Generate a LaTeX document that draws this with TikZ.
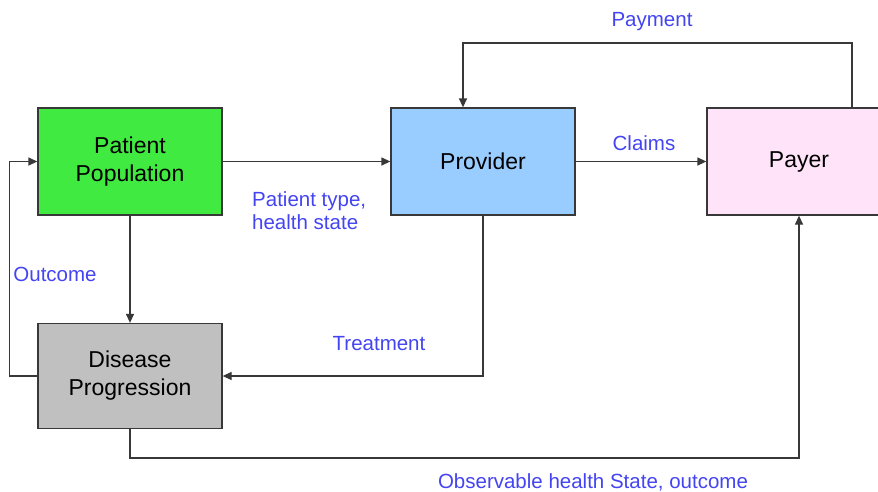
\documentclass[tikz,border=0pt]{standalone}
\usepackage{fontspec}
\setmainfont{Liberation Sans}
\usepackage{tikz}
\usepackage{xcolor}
\usetikzlibrary{arrows.meta, positioning, calc}

\definecolor{popgreen}{HTML}{40EA40}
\definecolor{provblue}{HTML}{99CCFF}
\definecolor{payerpink}{HTML}{FFE3F8}
\definecolor{diseasegray}{HTML}{C0C0C0}
\definecolor{flowtext}{HTML}{4444F2}
\definecolor{flowline}{HTML}{383838}

\tikzset{
  block/.style={draw=flowline, line width=1.3pt, minimum width=184pt, minimum height=107pt,
                align=center, font=\fontsize{23}{28}\selectfont, inner sep=0pt},
  flow/.style={draw=flowline, line width=1.3pt, -{Triangle[length=9pt,width=8pt]}},
  tag/.style={text=flowtext, font=\fontsize{20.5}{23}\selectfont, inner sep=0pt}
}

\begin{document}
\begin{tikzpicture}[x=1pt, y=-1pt]
\useasboundingbox (0,0) rectangle (878,491);

% Boxes
\node[block, fill=popgreen] (pat) at (130,161.5) {Patient\\Population};
\node[block, fill=provblue] (prov) at (483,161.5) {Provider};
\node[block, fill=payerpink] (pay) at (799,161.5) {Payer};
\node[block, fill=diseasegray, minimum height=105pt] (dis) at (130,376) {Disease\\Progression};

% Corners of the outer loops
\coordinate (payTop) at (852,43);
\coordinate (provTop) at (463,43);
\coordinate (bot) at (0,458);

% Connectors
\draw[flow] (pat) -- (prov);
\draw[flow] (prov) -- (pay);
\draw[flow] (pay.north -| payTop) -- (payTop) -- (provTop) -- (provTop |- prov.north);
\draw[flow] (pat) -- (dis);
\draw[flow] (dis.west) -- ++(-28,0) |- (pat.west);
\draw[flow] (prov.south) |- (dis.east);
\draw[flow] (dis.south) -- (dis.south |- bot) -| (pay.south);

% Flow labels
\node[tag] (lpay) at (652,22) {Payment};
\node[tag] (lclaim) at (644,143) {Claims};
\node[tag, anchor=west, align=left] (ltype) at (252,211) {Patient type,\\health state};
\node[tag] (lout) at (55,274) {Outcome};
\node[tag] (ltreat) at (379,344) {Treatment};
\node[tag] (lobs) at (593,482) {Observable health State, outcome};
\end{tikzpicture}
\end{document}
